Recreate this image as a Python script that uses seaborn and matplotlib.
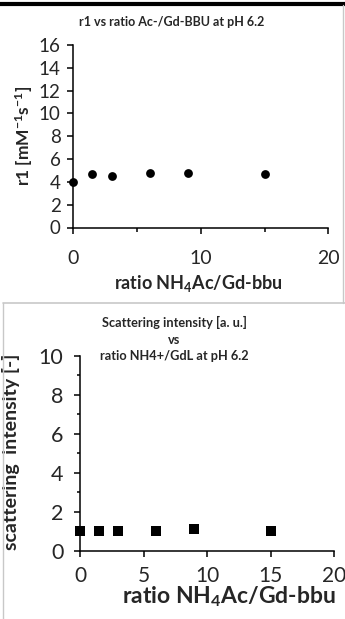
import numpy as np
import pandas as pd
import matplotlib
matplotlib.use('Agg')
import matplotlib.pyplot as plt
from matplotlib.lines import Line2D
from matplotlib.ticker import MultipleLocator
import seaborn as sns

# data
ratio = [0, 1.5, 3, 6, 9, 15]
r1_values = [4.0, 4.68, 4.53, 4.77, 4.82, 4.7]
scatter_values = [1.0, 1.0, 1.0, 1.0, 1.1, 1.0]

title_top = 'r1 vs ratio Ac-/Gd-BBU at pH 6.2'
title_bottom = 'Scattering intensity [a. u.]\nvs\nratio NH4+/GdL at pH 6.2'
xlabel = r'ratio NH$_{4}$Ac/Gd-bbu'
ylabel_top = r'r1 [mM$^{-1}$s$^{-1}$]'
ylabel_bottom = 'scattering  intensity [-]'

sns.set_style('white')
plt.rcParams['font.family'] = ['Lato', 'DejaVu Sans']
plt.rcParams['mathtext.fontset'] = 'custom'
plt.rcParams['mathtext.rm'] = 'Lato:bold'
plt.rcParams['mathtext.it'] = 'Lato:bold'
plt.rcParams['mathtext.bf'] = 'Lato:bold'
plt.rcParams['mathtext.default'] = 'rm'

df = pd.DataFrame({'ratio': ratio, 'r1': r1_values, 'scat': scatter_values})

W, H = 345, 619
fig = plt.figure(figsize=(W / 100, H / 100), dpi=100)


def px_axes(left, right, top, bottom):
    return fig.add_axes([left / W, 1 - bottom / H, (right - left) / W, (bottom - top) / H])


def style_axes(ax):
    for side in ['top', 'right']:
        ax.spines[side].set_visible(False)
    for side in ['left', 'bottom']:
        ax.spines[side].set_color('black')
        ax.spines[side].set_linewidth(1.1)
    ax.tick_params(which='both', direction='out', color='black', width=1.1,
                   left=True, bottom=True)
    ax.grid(False)


# top panel
ax1 = px_axes(73.3, 328.3, 45, 227.5)
sns.scatterplot(data=df, x='ratio', y='r1', ax=ax1, marker='o', s=40,
                color='black', edgecolor='black', linewidth=0, clip_on=False)
ax1.set_xlim(0, 20)
ax1.set_ylim(0, 16)
ax1.xaxis.set_major_locator(MultipleLocator(10))
ax1.xaxis.set_minor_locator(MultipleLocator(5))
ax1.yaxis.set_major_locator(MultipleLocator(2))
style_axes(ax1)
ax1.tick_params(which='major', length=4)
ax1.tick_params(which='minor', length=3)
ax1.tick_params(axis='x', which='major', pad=12, labelsize=14)
ax1.tick_params(axis='y', which='major', pad=5, labelsize=13.5)
ax1.set_xlabel(xlabel, fontsize=13, fontweight='bold')
ax1.xaxis.set_label_coords(0.49, -0.305)
ax1.xaxis.label.set_va('center')
ax1.set_ylabel(ylabel_top, fontsize=12.5, fontweight='bold')
ax1.yaxis.set_label_coords(-(73.3 - 24) / 255, 0.5)
ax1.yaxis.label.set_va('center')
fig.text(172 / W, 1 - 22 / H, title_top, ha='center', va='center',
         fontsize=9, fontweight='bold')

# bottom panel
ax2 = px_axes(80, 334.3, 355.7, 550.7)
sns.scatterplot(data=df, x='ratio', y='scat', ax=ax2, marker='s', s=42,
                color='black', edgecolor='black', linewidth=0, clip_on=False)
ax2.set_xlim(0, 20)
ax2.set_ylim(0, 10)
ax2.xaxis.set_major_locator(MultipleLocator(5))
ax2.yaxis.set_major_locator(MultipleLocator(2))
ax2.yaxis.set_minor_locator(MultipleLocator(1))
style_axes(ax2)
ax2.tick_params(which='major', length=4)
ax2.tick_params(which='minor', length=2.5)
ax2.tick_params(axis='x', which='major', pad=7, labelsize=15)
ax2.tick_params(axis='y', which='major', pad=8, labelsize=15.5)
ax2.set_xlabel(xlabel, fontsize=16.5, fontweight='bold')
ax2.xaxis.set_label_coords((229 - 80) / 254.3, -(597 - 550.7) / 195)
ax2.xaxis.label.set_va('center')
ax2.set_ylabel(ylabel_bottom, fontsize=14, fontweight='bold')
ax2.yaxis.set_label_coords(-(80 - 11) / 254.3, (550.7 - 452) / 195)
ax2.yaxis.label.set_va('center')
fig.text(174 / W, 1 - 339 / H, title_bottom, ha='center', va='center',
         fontsize=9.2, fontweight='bold', linespacing=1.45)

# frame lines around the two pasted panels
fig.add_artist(Line2D([0, 1], [1 - 4 / H, 1 - 4 / H], color='black', lw=3))
fig.add_artist(Line2D([343 / W, 343 / W], [1 - 5 / H, 1 - 303 / H], color='#c8c8c8', lw=1))
fig.add_artist(Line2D([3 / W, 1], [1 - 303 / H, 1 - 303 / H], color='#c8c8c8', lw=1.2))
fig.add_artist(Line2D([3 / W, 3 / W], [1 - 303 / H, 0], color='#c8c8c8', lw=1))

fig.savefig('out.png', dpi=100)
